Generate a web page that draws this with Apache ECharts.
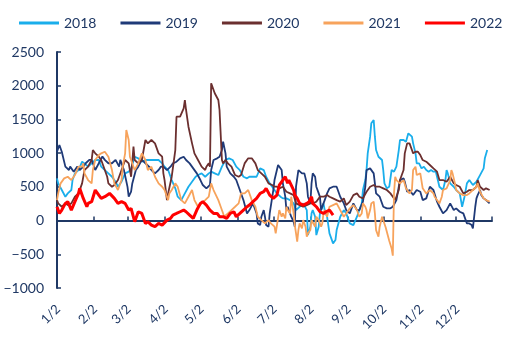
<!DOCTYPE html>
<html>
<head>
<meta charset="utf-8">
<script src="https://cdn.jsdelivr.net/npm/echarts@6/dist/echarts.min.js"></script>
<style>
html,body{margin:0;padding:0;background:#fff;}
#chart{width:514px;height:338px;}
</style>
</head>
<body>
<div id="chart"></div>
<script>
// ---- data: [day of year (Jan 1 = 0), value] ----
const seriesNames = ['2018', '2019', '2020', '2021', '2022'];

const d2018 = [[0,626],[1,552],[4,453],[7,354],[9,403],[12,453],[13,601],[15,700],[18,749],[21,873],[23,848],[26,799],[29,848],[32,898],[35,898],[37,799],[40,749],[43,700],[46,650],[49,576],[51,502],[54,576],[57,700],[60,725],[62,774],[65,947],[68,923],[71,873],[74,898],[76,898],[79,898],[82,898],[85,898],[88,848],[90,799],[93,749],[96,601],[99,478],[101,354],[104,304],[107,403],[110,502],[113,576],[116,650],[118,675],[121,700],[124,650],[127,700],[129,725],[132,700],[135,675],[138,799],[141,898],[144,923],[147,898],[150,799],[153,749],[156,650],[159,626],[161,650],[164,650],[167,650],[170,774],[173,749],[175,650],[178,552],[181,478],[184,403],[187,354],[189,329],[192,329],[195,304],[198,255],[200,156],[203,205],[206,255],[209,156],[210,-215],[212,-91],[213,106],[214,156],[216,57],[217,-215],[219,-91],[220,106],[221,131],[223,255],[224,156],[226,57],[228,-190],[231,-338],[233,-289],[234,-141],[237,57],[240,156],[242,106],[245,-42],[248,-67],[251,57],[253,156],[255,255],[256,453],[258,601],[259,749],[260,997],[262,1244],[263,1442],[265,1491],[266,1244],[267,1046],[269,947],[270,923],[272,898],[273,749],[274,552],[276,478],[278,500],[280,750],[282,725],[284,800],[286,1046],[287,1195],[288,1219],[290,1195],[292,1170],[294,1294],[295,1318],[297,1244],[298,1145],[300,997],[301,848],[303,848],[305,774],[307,799],[309,749],[311,725],[313,749],[315,725],[317,725],[320,502],[323,453],[325,601],[326,749],[327,700],[329,552],[332,502],[334,453],[337,403],[339,205],[340,205],[341,354],[343,552],[345,601],[348,527],[351,576],[354,675],[357,774],[358,923],[360,1046]];

const d2019 = [[0,1020],[1,1046],[2,1120],[4,1021],[7,800],[10,750],[11,800],[14,725],[17,800],[19,750],[22,800],[24,850],[27,900],[29,900],[32,750],[35,850],[38,950],[40,900],[43,850],[46,850],[49,900],[52,800],[53,900],[56,750],[59,500],[60,354],[62,430],[63,550],[66,750],[68,800],[71,900],[74,850],[77,800],[79,750],[82,700],[85,750],[87,800],[89,799],[92,749],[95,799],[97,848],[100,873],[103,923],[106,947],[108,898],[111,848],[114,774],[117,700],[120,601],[122,527],[125,478],[128,527],[129,749],[131,898],[134,923],[136,947],[138,1046],[139,1170],[141,997],[142,799],[145,700],[148,650],[150,601],[153,453],[156,304],[159,106],[161,156],[164,255],[167,106],[168,-42],[170,-67],[171,57],[173,156],[174,57],[175,-67],[177,-91],[178,106],[181,453],[182,601],[184,749],[185,824],[186,848],[188,749],[189,552],[191,354],[192,156],[193,205],[195,106],[196,57],[198,-17],[199,-91],[200,502],[202,749],[203,749],[205,700],[206,675],[207,700],[209,552],[210,354],[212,255],[213,552],[214,700],[216,650],[217,502],[219,403],[220,354],[221,156],[223,255],[224,304],[226,403],[228,478],[231,502],[234,502],[237,354],[240,255],[242,156],[245,106],[248,255],[251,156],[253,156],[256,280],[258,502],[259,749],[262,774],[265,700],[267,403],[270,354],[273,205],[276,181],[279,181],[281,205],[284,304],[286,502],[287,600],[290,626],[291,576],[293,428],[295,453],[298,378],[301,453],[304,428],[306,304],[309,329],[312,502],[315,453],[318,280],[320,205],[323,106],[326,156],[329,255],[332,156],[334,181],[337,131],[340,106],[343,-42],[344,-67],[345,-42],[347,-67],[348,-116],[350,205],[351,329],[352,378],[354,453],[355,378],[357,329],[359,304],[362,255]];

const d2020 = [[0,304],[1,255],[4,205],[7,255],[9,230],[12,255],[15,354],[18,403],[21,552],[23,749],[26,799],[29,898],[30,1046],[32,997],[35,947],[37,898],[40,749],[42,650],[43,552],[46,502],[48,527],[51,601],[54,749],[57,898],[60,848],[62,650],[64,1096],[65,898],[68,848],[71,898],[74,1195],[76,1145],[79,1195],[82,1145],[85,997],[88,947],[89,700],[90,601],[92,304],[93,403],[96,650],[99,1046],[100,1541],[103,1541],[106,1665],[107,1788],[108,1640],[110,1392],[113,1145],[115,997],[118,898],[121,799],[124,749],[125,799],[127,848],[128,799],[129,2036],[132,1888],[135,1788],[136,1640],[138,898],[139,848],[141,898],[143,848],[146,799],[149,675],[152,650],[154,675],[157,848],[160,923],[163,923],[166,848],[168,749],[171,700],[174,650],[177,552],[180,527],[182,502],[184,502],[186,478],[189,502],[192,428],[195,403],[198,378],[200,255],[203,230],[206,205],[209,230],[212,255],[214,255],[217,280],[220,354],[223,354],[226,378],[228,354],[231,329],[234,304],[237,280],[240,329],[242,230],[245,280],[248,378],[251,403],[253,354],[256,329],[259,428],[262,502],[265,527],[267,502],[270,502],[273,478],[276,453],[279,403],[281,354],[283,304],[284,354],[286,453],[287,601],[288,626],[290,749],[291,997],[293,1145],[294,1170],[295,1145],[297,1046],[298,997],[300,1021],[301,997],[302,1021],[304,972],[306,898],[309,873],[312,824],[315,774],[318,725],[320,601],[323,601],[326,576],[329,650],[332,552],[334,527],[337,502],[340,403],[343,428],[345,453],[348,453],[351,502],[352,601],[354,502],[357,453],[359,478],[362,453]];

const d2021 = [[0,304],[1,403],[3,552],[6,626],[9,650],[12,601],[15,675],[18,799],[21,799],[22,848],[23,700],[26,601],[29,552],[30,749],[32,898],[35,972],[37,997],[40,1021],[41,1046],[43,947],[46,749],[48,552],[51,453],[54,601],[55,799],[57,997],[58,1343],[60,1195],[61,947],[62,898],[64,799],[65,749],[68,848],[71,997],[74,898],[76,749],[79,799],[82,650],[85,552],[88,502],[90,453],[93,304],[94,403],[96,453],[99,552],[101,502],[104,304],[107,255],[110,354],[113,453],[115,304],[118,205],[121,255],[124,304],[127,354],[128,453],[129,552],[131,453],[135,304],[137,205],[140,57],[143,106],[146,156],[149,205],[152,255],[154,403],[157,403],[160,453],[163,304],[166,205],[168,57],[171,7],[174,-42],[177,7],[179,-42],[182,-91],[183,-190],[184,-215],[186,156],[188,57],[189,106],[191,32],[192,205],[193,156],[195,106],[196,354],[198,106],[199,-67],[201,-314],[202,-141],[203,-42],[205,-116],[206,7],[208,-91],[209,-240],[210,-190],[212,-141],[213,7],[214,-17],[216,-91],[217,57],[219,7],[221,-91],[222,-42],[223,106],[224,156],[226,57],[228,205],[231,230],[234,255],[237,156],[240,57],[242,106],[245,181],[248,230],[251,156],[253,57],[255,106],[256,255],[258,205],[259,156],[260,32],[262,156],[263,255],[265,280],[266,106],[267,-141],[269,-240],[270,-91],[272,57],[273,32],[275,-100],[278,-300],[280,-413],[281,-520],[282,403],[283,650],[284,601],[287,552],[290,601],[292,478],[295,403],[297,453],[298,749],[300,799],[301,675],[304,700],[306,478],[309,403],[312,453],[315,403],[316,354],[318,304],[320,255],[322,354],[323,453],[326,478],[329,601],[330,749],[331,700],[333,552],[334,453],[337,403],[340,378],[343,378],[345,403],[348,453],[351,502],[352,552],[354,428],[357,329],[359,304],[362,280]];

const d2022 = [[0,205],[2,106],[4,156],[7,255],[9,280],[12,156],[15,280],[18,403],[19,478],[22,329],[25,205],[26,255],[29,280],[32,453],[35,378],[37,329],[40,354],[44,403],[48,329],[51,255],[54,280],[57,255],[60,156],[62,181],[65,-17],[68,131],[71,106],[74,-42],[76,-17],[79,-67],[82,-91],[85,-42],[88,-67],[92,7],[95,32],[97,82],[100,106],[103,131],[106,156],[108,131],[111,82],[114,32],[117,156],[120,255],[122,280],[125,230],[128,156],[131,106],[134,106],[136,57],[139,57],[142,32],[145,106],[148,131],[150,57],[153,106],[156,156],[159,205],[161,230],[164,280],[167,329],[170,403],[173,428],[175,478],[178,378],[181,329],[184,378],[186,527],[189,601],[191,650],[192,675],[193,552],[194,601],[196,527],[198,453],[199,378],[201,329],[203,255],[206,230],[209,255],[211,280],[213,354],[214,255],[217,205],[220,131],[223,106],[225,131],[228,156],[230,106],[231,82]];

const allData = [d2018, d2019, d2020, d2021, d2022];

// axis ticks / labels
const xTickDays = [0,31,59,90,120,151,181,212,243,273,304,334,364];
const xLabelDays = [1,32,60,91,121,152,182,213,244,274,305,335];
const xLabels = ['1/2','2/2','3/2','4/2','5/2','6/2','7/2','8/2','9/2','10/2','11/2','12/2'];

const colors = ['#1aaeeb', '#1f3a78', '#6b2f2f', '#f7a35c', '#ff0000'];
const widths = [1.8, 1.8, 1.8, 1.8, 3];
const textColor = '#1f3864';
const font = 'Lato';

const chart = echarts.init(document.getElementById('chart'), null, {renderer: 'canvas'});
chart.setOption({
  animation: false,
  backgroundColor: '#fff',
  color: colors,
  legend: {
    data: seriesNames,
    top: 11,
    left: 14,
    itemWidth: 40,
    itemHeight: 3,
    itemGap: 24,
    icon: 'rect',
    textStyle: {fontSize: 14, color: textColor, fontFamily: font}
  },
  grid: {left: 57, right: 22, top: 52, bottom: 50, containLabel: false},
  xAxis: [
    {
      type: 'value', min: 0, max: 364, position: 'bottom',
      axisLine: {show: false, onZero: false},
      axisTick: {show: false},
      splitLine: {show: false},
      axisLabel: {
        customValues: xLabelDays,
        formatter: v => xLabels[xLabelDays.indexOf(v)],
        rotate: 45, margin: 19, fontSize: 13, color: textColor, fontFamily: font
      }
    },
    {
      type: 'value', min: 0, max: 364, position: 'top',
      axisLine: {show: true, onZero: true, lineStyle: {color: textColor, width: 2}},
      axisTick: {show: true, customValues: xTickDays, inside: false, length: 4, lineStyle: {color: textColor, width: 1.5}},
      axisLabel: {show: false},
      splitLine: {show: false}
    }
  ],
  yAxis: {
    type: 'value', min: -1000, max: 2500, interval: 500,
    axisLine: {show: true, onZero: false, lineStyle: {color: textColor, width: 2}},
    axisTick: {show: true, inside: true, length: 4, lineStyle: {color: textColor, width: 1.5}},
    splitLine: {show: false},
    axisLabel: {
      margin: 13, fontSize: 14, color: textColor, fontFamily: font,
      formatter: v => (v < 0 ? '\u2212' + Math.abs(v) : String(v))
    }
  },
  series: seriesNames.map((name, i) => ({
    name: name,
    type: 'line',
    xAxisIndex: 0,
    data: allData[i],
    symbol: 'none',
    showSymbol: false,
    lineStyle: {width: widths[i], color: colors[i]},
    itemStyle: {color: colors[i]},
    z: 2 + i
  }))
});
</script>
</body>
</html>
